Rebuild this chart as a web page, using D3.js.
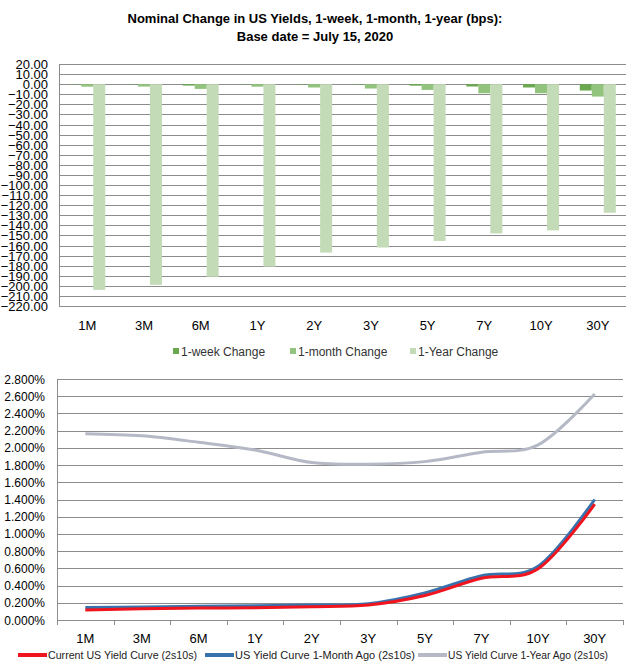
<!DOCTYPE html>
<html lang="en">
<head>
  <meta charset="UTF-8">
  <title>US Yields</title>
  <script src="https://d3js.org/d3.v7.min.js"></script>
  <style>
    body { margin: 0; background: #fff; }
    svg { display: block; font-family: Arial, "Liberation Sans", sans-serif; }
  </style>
</head>
<body>
  <svg id="chart"></svg>

  <script>
    const tenors = ["1M", "3M", "6M", "1Y", "2Y", "3Y", "5Y", "7Y", "10Y", "30Y"];

    // top chart, change in bps
    const changeSeries = ["1-week Change", "1-month Change", "1-Year Change"];
    const weekChange = [-0.3, -0.3, -1.4, -0.3, -0.4, -0.4, -1.5, -2.3, -3.3, -6.3];
    const monthChange = [-2.5, -2.4, -4.7, -2.5, -3.3, -4.3, -5.7, -9.0, -9.0, -12.3];
    const yearChange = [-204, -199, -191, -181, -167, -162, -155.5, -148, -145, -127.5];
    const changeTicks = d3.range(-220, 21, 10);

    // bottom chart, yields in %
    const curveSeries = ["Current US Yield Curve (2s10s)", "US Yield Curve 1-Month Ago (2s10s)", "US Yield Curve 1-Year Ago (2s10s)"];
    const currentCurve = [0.115, 0.13, 0.138, 0.143, 0.155, 0.175, 0.285, 0.485, 0.595, 1.345];
    const monthAgoCurve = [0.145, 0.152, 0.16, 0.166, 0.174, 0.19, 0.315, 0.515, 0.625, 1.40];
    const yearAgoCurve = [2.165, 2.14, 2.065, 1.975, 1.83, 1.81, 1.84, 1.95, 2.035, 2.625];
    const yieldTicks = d3.range(0, 2.81, 0.2);

    const width = 628, height = 666;
    const gridColor = "#8c8c8c";
    const svg = d3.select("#chart").attr("width", width).attr("height", height);

    // title
    const title = svg.append("text")
      .attr("text-anchor", "middle")
      .attr("font-size", 13)
      .attr("font-weight", "bold");
    title.append("tspan").attr("x", 315).attr("y", 23)
      .text("Nominal Change in US Yields, 1-week, 1-month, 1-year (bps):");
    title.append("tspan").attr("x", 315).attr("y", 41)
      .text("Base date = July 15, 2020");

    // ---- top bar chart ----
    const barColors = d3.scaleOrdinal(changeSeries, ["#6aa84f", "#93c47d", "#c3dbb6"]);
    const changeData = [weekChange, monthChange, yearChange];

    const x0 = d3.scaleBand().domain(tenors).range([59, 626])
      .paddingInner(0.365).paddingOuter(0.18);
    const x1 = d3.scaleBand().domain(changeSeries).range([0, x0.bandwidth()]);
    const y0 = d3.scaleLinear().domain([-220, 20]).range([306, 64]);

    svg.append("g")
      .selectAll("line")
      .data(changeTicks)
      .join("line")
      .attr("x1", 59).attr("x2", 626)
      .attr("y1", d => Math.round(y0(d)) + 0.5)
      .attr("y2", d => Math.round(y0(d)) + 0.5)
      .attr("stroke", gridColor);

    svg.append("line")
      .attr("x1", 59.5).attr("x2", 59.5)
      .attr("y1", y0(20)).attr("y2", y0(-220) + 0.5)
      .attr("stroke", gridColor);

    svg.append("g")
      .attr("font-size", 13)
      .attr("text-anchor", "end")
      .selectAll("text")
      .data(changeTicks)
      .join("text")
      .attr("x", 48)
      .attr("y", d => y0(d) + 5)
      .text(d => d3.format(".2f")(d));

    svg.append("g")
      .selectAll("g")
      .data(tenors)
      .join("g")
      .attr("transform", d => `translate(${x0(d)},0)`)
      .selectAll("rect")
      .data((d, i) => changeSeries.map((s, k) => ({ s, v: changeData[k][i] })))
      .join("rect")
      .attr("x", d => x1(d.s))
      .attr("width", x1.bandwidth())
      .attr("y", d => y0(Math.max(0, d.v)))
      .attr("height", d => Math.abs(y0(d.v) - y0(0)))
      .attr("fill", d => barColors(d.s));

    svg.append("g")
      .attr("font-size", 13)
      .attr("text-anchor", "middle")
      .selectAll("text")
      .data(tenors)
      .join("text")
      .attr("x", d => x0(d) + x0.bandwidth() / 2)
      .attr("y", 330)
      .text(d => d);

    const barLegendX = [173, 290, 410];
    const barLegend = svg.append("g")
      .selectAll("g")
      .data(changeSeries)
      .join("g")
      .attr("transform", (d, i) => `translate(${barLegendX[i]},351)`);
    barLegend.append("rect")
      .attr("x", 0).attr("y", -3).attr("width", 6).attr("height", 6)
      .attr("fill", d => barColors(d));
    barLegend.append("text")
      .attr("x", 8).attr("y", 4.5)
      .attr("font-size", 12)
      .attr("fill", "#333")
      .text(d => d);

    // ---- bottom line chart ----
    const lineColors = d3.scaleOrdinal(curveSeries, ["#f0141e", "#3872ad", "#b5b9c6"]);
    const curveData = [currentCurve, monthAgoCurve, yearAgoCurve];

    const xp = d3.scalePoint().domain(tenors).range([57, 623]).padding(0.5);
    const yp = d3.scaleLinear().domain([0, 2.8]).range([620, 379]);

    svg.append("g")
      .selectAll("line")
      .data(yieldTicks)
      .join("line")
      .attr("x1", 57).attr("x2", 623)
      .attr("y1", d => Math.round(yp(d)) + 0.5)
      .attr("y2", d => Math.round(yp(d)) + 0.5)
      .attr("stroke", gridColor);

    svg.append("line")
      .attr("x1", 57.5).attr("x2", 57.5)
      .attr("y1", yp(2.8)).attr("y2", yp(0) + 0.5)
      .attr("stroke", gridColor);

    // category tick marks between tenors
    const step = xp.step();
    svg.append("g")
      .selectAll("line")
      .data(d3.range(tenors.length + 1))
      .join("line")
      .attr("x1", i => Math.round(57 + i * step) + 0.5)
      .attr("x2", i => Math.round(57 + i * step) + 0.5)
      .attr("y1", yp(0)).attr("y2", yp(0) + 5)
      .attr("stroke", gridColor);

    svg.append("g")
      .attr("font-size", 12)
      .attr("text-anchor", "end")
      .selectAll("text")
      .data(yieldTicks)
      .join("text")
      .attr("x", 45)
      .attr("y", d => yp(d) + 4.5)
      .text(d => d3.format(".3f")(d) + "%");

    svg.append("g")
      .attr("font-size", 13)
      .attr("text-anchor", "middle")
      .selectAll("text")
      .data(tenors)
      .join("text")
      .attr("x", d => xp(d))
      .attr("y", 643)
      .text(d => d);

    const line = d3.line()
      .x((d, i) => xp(tenors[i]))
      .y(d => yp(d))
      .curve(d3.curveCardinal.tension(0));

    // draw year ago first, then month ago, current on top
    [2, 1, 0].forEach(k => {
      svg.append("path")
        .attr("d", line(curveData[k]))
        .attr("fill", "none")
        .attr("stroke", lineColors(curveSeries[k]))
        .attr("stroke-width", 3);
    });

    const lineLegendX = [18, 205, 418];
    const lineLegendW = [149, 180, 160];
    const lineLegend = svg.append("g")
      .selectAll("g")
      .data(curveSeries)
      .join("g")
      .attr("transform", (d, i) => `translate(${lineLegendX[i]},655)`);
    lineLegend.append("line")
      .attr("x1", 0).attr("x2", 29)
      .attr("stroke", d => lineColors(d))
      .attr("stroke-width", 4);
    lineLegend.append("text")
      .attr("x", 30).attr("y", 4)
      .attr("font-size", 11.5)
      .attr("fill", "#222")
      .attr("textLength", (d, i) => lineLegendW[i])
      .attr("lengthAdjust", "spacingAndGlyphs")
      .text(d => d);
  </script>
</body>
</html>
